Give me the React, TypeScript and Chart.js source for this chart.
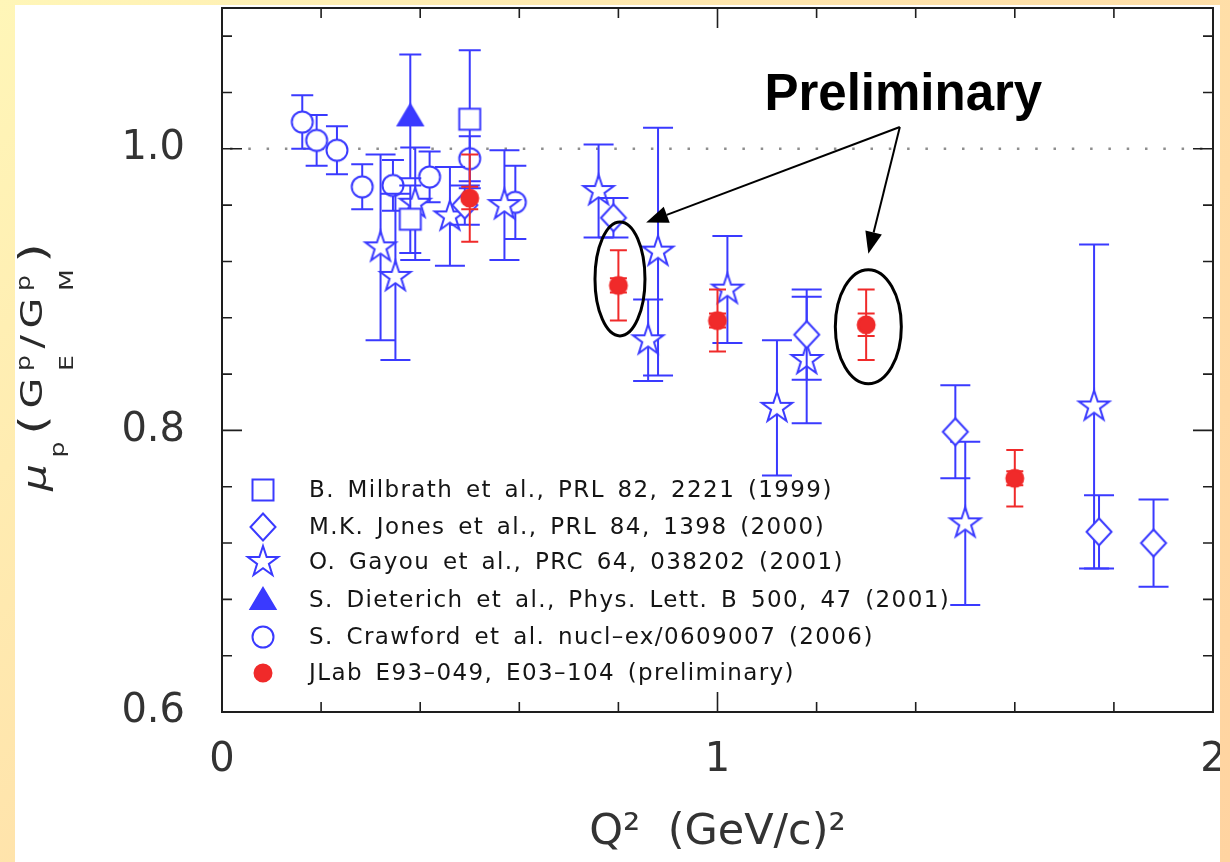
import React, { useEffect, useRef } from "react";
import { Chart, registerables } from "chart.js";

Chart.register(...registerables);

// ---------------- data ----------------
const milbrathQ2 = [0.38, 0.5];
const milbrathR = [0.95, 1.021];
const milbrathErr = [0.024, 0.049];

const jonesQ2 = [0.49, 0.79, 1.18, 1.48, 1.77, 1.88];
const jonesR = [0.96, 0.951, 0.868, 0.799, 0.728, 0.72];
const jonesErr = [0.014, 0.014, 0.032, 0.033, 0.026, 0.031];

const gayouQ2 = [0.32, 0.35, 0.39, 0.46, 0.57, 0.76, 0.86, 0.88, 1.02, 1.12, 1.18, 1.5, 1.76];
const gayouR = [0.93, 0.909, 0.961, 0.952, 0.96, 0.97, 0.864, 0.927, 0.9, 0.816, 0.85, 0.734, 0.817];
const gayouErr = [0.066, 0.059, 0.04, 0.035, 0.039, 0.033, 0.029, 0.088, 0.038, 0.048, 0.045, 0.058, 0.115];

const dieterichQ2 = [0.38];
const dieterichR = [1.023];
const dieterichErr = [0.044];

const crawfordQ2 = [0.162, 0.191, 0.232, 0.283, 0.345, 0.419, 0.5, 0.592];
const crawfordR = [1.019, 1.006, 0.999, 0.973, 0.974, 0.98, 0.993, 0.962];
const crawfordErr = [0.019, 0.018, 0.017, 0.016, 0.018, 0.018, 0.016, 0.026];

const jlabQ2 = [0.5, 0.8, 1.0, 1.3, 1.6];
const jlabR = [0.965, 0.903, 0.878, 0.875, 0.766];
const jlabErr = [0.031, 0.025, 0.022, 0.025, 0.02];
const jlabStatErr = [0.008, 0.005, 0.005, 0.008, 0.005];

const legendLabels = [
  "B. Milbrath et al., PRL 82, 2221 (1999)",
  "M.K. Jones et al., PRL 84, 1398 (2000)",
  "O. Gayou et al., PRC 64, 038202 (2001)",
  "S. Dieterich et al., Phys. Lett. B 500, 47 (2001)",
  "S. Crawford et al. nucl\u2013ex/0609007 (2006)",
  "JLab E93\u2013049, E03\u2013104 (preliminary)",
];

const xLabelTicks = [0, 1, 2];
const yLabelTicks = [0.6, 0.8, 1.0];
const xMinorTicks = [0.2, 0.4, 0.6, 0.8, 1.2, 1.4, 1.6, 1.8];
const xMajorTicks = [0, 1, 2];
const yMinorTicks = [0.64, 0.68, 0.72, 0.76, 0.84, 0.88, 0.92, 0.96, 1.04, 1.08];
const yMajorTicks = [0.6, 0.8, 1.0];
const referenceLine = 1.0;

const xTitle = "Q\u00B2  (GeV/c)\u00B2";
const prelimText = "Preliminary";
const prelimAt = { x: 1.375, y: 1.0277 };
const arrowFrom = { x: 1.368, y: 1.0155 };
const arrowTips = [
  { x: 0.856, y: 0.9476 },
  { x: 1.3044, y: 0.9254 },
];
const ellipseCenters = [
  { x: 0.8032, y: 0.9076 },
  { x: 1.3044, y: 0.8737 },
];

// ---------------- styles ----------------
const BLUE = "#3a3aff";
const RED = "#f02a2a";
const FONT = '"DejaVu Sans", "Liberation Sans", sans-serif';

type Kind = "square" | "diamond" | "star" | "triangle" | "circle" | "dot";

function makeMarker(kind: Kind): HTMLCanvasElement {
  const s = 38;
  const c = document.createElement("canvas");
  c.width = s;
  c.height = s;
  const g = c.getContext("2d")!;
  const m = s / 2;
  g.lineWidth = 2;
  g.strokeStyle = BLUE;
  g.fillStyle = "#ffffff";
  g.beginPath();
  if (kind === "square") {
    g.rect(m - 10.5, m - 10.5, 21, 21);
  } else if (kind === "diamond") {
    g.moveTo(m, m - 13.5);
    g.lineTo(m + 12.5, m);
    g.lineTo(m, m + 13.5);
    g.lineTo(m - 12.5, m);
    g.closePath();
  } else if (kind === "star") {
    for (let i = 0; i < 10; i++) {
      const r = i % 2 ? 6.2 : 16;
      const a = -Math.PI / 2 + (i * Math.PI) / 5;
      const px = m + r * Math.cos(a);
      const py = m + r * Math.sin(a);
      if (i === 0) g.moveTo(px, py);
      else g.lineTo(px, py);
    }
    g.closePath();
  } else if (kind === "triangle") {
    g.moveTo(m, m - 12);
    g.lineTo(m + 12.5, m + 9);
    g.lineTo(m - 12.5, m + 9);
    g.closePath();
    g.fillStyle = BLUE;
  } else if (kind === "circle") {
    g.arc(m, m, 10.5, 0, Math.PI * 2);
  } else {
    g.arc(m, m, 8.5, 0, Math.PI * 2);
    g.fillStyle = RED;
    g.strokeStyle = RED;
  }
  g.fill();
  g.stroke();
  return c;
}

interface Series {
  label: string;
  xs: number[];
  ys: number[];
  errs: number[];
  stat?: number[];
  kind: Kind;
  color: string;
  cap: number;
  legendRow: number;
}

// dataset order: index 0 drawn last (on top)
const SERIES: Series[] = [
  { label: legendLabels[5], xs: jlabQ2, ys: jlabR, errs: jlabErr, stat: jlabStatErr, kind: "dot", color: RED, cap: 8.5, legendRow: 5 },
  { label: legendLabels[0], xs: milbrathQ2, ys: milbrathR, errs: milbrathErr, kind: "square", color: BLUE, cap: 11, legendRow: 0 },
  { label: legendLabels[1], xs: jonesQ2, ys: jonesR, errs: jonesErr, kind: "diamond", color: BLUE, cap: 15, legendRow: 1 },
  { label: legendLabels[2], xs: gayouQ2, ys: gayouR, errs: gayouErr, kind: "star", color: BLUE, cap: 15, legendRow: 2 },
  { label: legendLabels[3], xs: dieterichQ2, ys: dieterichR, errs: dieterichErr, kind: "triangle", color: BLUE, cap: 11, legendRow: 3 },
  { label: legendLabels[4], xs: crawfordQ2, ys: crawfordR, errs: crawfordErr, kind: "circle", color: BLUE, cap: 11, legendRow: 4 },
];

export default function App() {
  const ref = useRef<HTMLCanvasElement>(null);

  useEffect(() => {
    const markers: Record<string, HTMLCanvasElement> = {};
    (["square", "diamond", "star", "triangle", "circle", "dot"] as Kind[]).forEach((k) => {
      markers[k] = makeMarker(k);
    });

    const errorBars = {
      id: "errorBars",
      beforeDatasetDraw(chart: any, args: any) {
        const s = SERIES[args.index];
        if (!s) return;
        const { ctx } = chart;
        const xs = chart.scales.x;
        const ys = chart.scales.y;
        ctx.save();
        ctx.strokeStyle = s.color;
        ctx.lineWidth = 2;
        ctx.beginPath();
        s.xs.forEach((xv, i) => {
          const px = xs.getPixelForValue(xv);
          const t = ys.getPixelForValue(s.ys[i] + s.errs[i]);
          const b = ys.getPixelForValue(s.ys[i] - s.errs[i]);
          ctx.moveTo(px, t);
          ctx.lineTo(px, b);
          ctx.moveTo(px - s.cap, t);
          ctx.lineTo(px + s.cap, t);
          ctx.moveTo(px - s.cap, b);
          ctx.lineTo(px + s.cap, b);
          if (s.stat) {
            const ti = ys.getPixelForValue(s.ys[i] + s.stat[i]);
            const bi = ys.getPixelForValue(s.ys[i] - s.stat[i]);
            ctx.moveTo(px - s.cap, ti);
            ctx.lineTo(px + s.cap, ti);
            ctx.moveTo(px - s.cap, bi);
            ctx.lineTo(px + s.cap, bi);
          }
        });
        ctx.stroke();
        ctx.restore();
      },
    };

    const background = {
      id: "refline",
      beforeDatasetsDraw(chart: any) {
        const { ctx, chartArea } = chart;
        const y = chart.scales.y.getPixelForValue(referenceLine);
        ctx.save();
        ctx.strokeStyle = "#8e8e8e";
        ctx.lineWidth = 2.5;
        ctx.setLineDash([2.5, 15.8]);
        ctx.lineDashOffset = -8;
        ctx.beginPath();
        ctx.moveTo(chartArea.left, y);
        ctx.lineTo(chartArea.right, y);
        ctx.stroke();
        ctx.restore();
      },
    };

    const frame = {
      id: "frame",
      afterDraw(chart: any) {
        const { ctx, chartArea } = chart;
        const { left, right, top, bottom } = chartArea;
        const xs = chart.scales.x;
        const ys = chart.scales.y;
        ctx.save();
        ctx.strokeStyle = "#1e1e1e";
        ctx.lineWidth = 1.6;
        ctx.beginPath();
        const tickX = (v: number, len: number) => {
          const px = xs.getPixelForValue(v);
          ctx.moveTo(px, bottom);
          ctx.lineTo(px, bottom - len);
          ctx.moveTo(px, top);
          ctx.lineTo(px, top + len);
        };
        const tickY = (v: number, len: number) => {
          const py = ys.getPixelForValue(v);
          ctx.moveTo(left, py);
          ctx.lineTo(left + len, py);
          ctx.moveTo(right, py);
          ctx.lineTo(right - len, py);
        };
        xMinorTicks.forEach((v) => tickX(v, 10));
        xMajorTicks.forEach((v) => tickX(v, 20));
        yMinorTicks.forEach((v) => tickY(v, 10));
        yMajorTicks.forEach((v) => tickY(v, 20));
        ctx.stroke();
        ctx.lineWidth = 2;
        ctx.strokeRect(left, top, right - left, bottom - top);
        ctx.restore();
      },
    };

    const legendPlugin = {
      id: "legendBox",
      afterDraw(chart: any) {
        const { ctx } = chart;
        const rowsY = [485, 522, 557, 595, 632, 668];
        ctx.save();
        ctx.font = `23px ${FONT}`;
        (ctx as any).letterSpacing = "1.4px";
        (ctx as any).wordSpacing = "4px";
        ctx.fillStyle = "#151515";
        ctx.textBaseline = "middle";
        ctx.textAlign = "left";
        SERIES.forEach((s) => {
          const y = rowsY[s.legendRow];
          const mk = markers[s.kind];
          ctx.drawImage(mk, 248 - mk.width / 2, y - mk.height / 2);
          ctx.fillText(s.label, 294, y + 1);
        });
        (ctx as any).letterSpacing = "0px";
        (ctx as any).wordSpacing = "0px";
        ctx.restore();
      },
    };

    const annotations = {
      id: "annotations",
      afterDraw(chart: any) {
        const { ctx } = chart;
        const xs = chart.scales.x;
        const ys = chart.scales.y;
        const P = (p: { x: number; y: number }) => ({ x: xs.getPixelForValue(p.x), y: ys.getPixelForValue(p.y) });
        ctx.save();
        ctx.fillStyle = "#000";
        ctx.font = 'bold 51px "Liberation Sans", Arial, sans-serif';
        ctx.textAlign = "center";
        ctx.textBaseline = "alphabetic";
        const tp = P(prelimAt);
        ctx.fillText(prelimText, tp.x, tp.y);
        const from = P(arrowFrom);
        ctx.strokeStyle = "#000";
        ctx.lineWidth = 2;
        arrowTips.forEach((tip) => {
          const t = P(tip);
          const dx = t.x - from.x;
          const dy = t.y - from.y;
          const len = Math.hypot(dx, dy);
          const ux = dx / len;
          const uy = dy / len;
          const hl = 22;
          const hw = 8.5;
          const bx = t.x - ux * hl;
          const by = t.y - uy * hl;
          ctx.beginPath();
          ctx.moveTo(from.x, from.y);
          ctx.lineTo(bx, by);
          ctx.stroke();
          ctx.beginPath();
          ctx.moveTo(t.x, t.y);
          ctx.lineTo(bx - uy * hw, by + ux * hw);
          ctx.lineTo(bx + uy * hw, by - ux * hw);
          ctx.closePath();
          ctx.fillStyle = "#000";
          ctx.fill();
        });
        ctx.lineWidth = 3;
        const radii = [
          [25, 57],
          [33, 57],
        ];
        ellipseCenters.forEach((c, i) => {
          const p = P(c);
          ctx.beginPath();
          ctx.ellipse(p.x, p.y, radii[i][0], radii[i][1], 0, 0, Math.PI * 2);
          ctx.stroke();
        });
        ctx.restore();
      },
    };

    const yTitle = {
      id: "yTitle",
      afterDraw(chart: any) {
        const { ctx } = chart;
        const main = `30px ${FONT}`;
        const small = `19px ${FONT}`;
        const paren = `38px ${FONT}`;
        const mu = `italic 32px ${FONT}`;
        const segs: { t: string; f: string; dy: number }[][] = [
          [{ t: "\u03BC", f: mu, dy: 4 }],
          [{ t: "p", f: small, dy: 22 }],
          [{ t: "(", f: paren, dy: 3 }],
          [{ t: "G", f: main, dy: 0 }],
          [
            { t: "p", f: small, dy: -12 },
            { t: "E", f: small, dy: 31 },
          ],
          [{ t: "/", f: main, dy: 0 }],
          [{ t: "G", f: main, dy: 0 }],
          [
            { t: "p", f: small, dy: -12 },
            { t: "M", f: small, dy: 31 },
          ],
          [{ t: ")", f: paren, dy: 3 }],
        ];
        const gap = 5;
        const widths = segs.map((seg) =>
          Math.max(
            ...seg.map((p) => {
              ctx.font = p.f;
              return ctx.measureText(p.t).width;
            })
          )
        );
        const total = widths.reduce((a, b) => a + b, 0) + gap * (segs.length - 1);
        const target = 248;
        ctx.save();
        ctx.translate(27, 362);
        ctx.rotate(-Math.PI / 2);
        ctx.scale(target / total, 1);
        ctx.fillStyle = "#2a2a2a";
        ctx.textBaseline = "alphabetic";
        ctx.textAlign = "left";
        let u = -total / 2;
        segs.forEach((seg, i) => {
          seg.forEach((p) => {
            ctx.font = p.f;
            ctx.fillText(p.t, u, p.dy);
          });
          u += widths[i] + gap;
        });
        ctx.restore();
      },
    };

    const chart = new Chart(ref.current!, {
      type: "scatter",
      data: {
        datasets: SERIES.map((s) => ({
          label: s.label,
          data: s.xs.map((x, i) => ({ x, y: s.ys[i] })),
          pointStyle: markers[s.kind] as any,
          pointRadius: 12,
          showLine: false,
          clip: false,
        })),
      },
      options: {
        responsive: false,
        animation: false,
        events: [],
        layout: { autoPadding: false, padding: { top: 3, right: 7, left: 0, bottom: 0 } },
        plugins: {
          legend: { display: false },
          tooltip: { enabled: false },
        },
        scales: {
          x: {
            type: "linear",
            min: 0,
            max: 2,
            grid: { display: false, drawTicks: false },
            border: { display: false },
            afterBuildTicks: (s: any) => {
              s.ticks = xLabelTicks.map((v) => ({ value: v }));
            },
            afterFit: (s: any) => {
              s.height = 150;
              s.paddingLeft = 0;
              s.paddingRight = 0;
            },
            ticks: {
              padding: 25,
              color: "#333",
              font: { family: FONT, size: 40 },
              maxRotation: 0,
              autoSkip: false,
              callback: (v: any) => String(v),
            },
            title: {
              display: true,
              text: xTitle,
              color: "#333",
              font: { family: FONT, size: 43 },
              padding: { top: 0, bottom: 3 },
            },
          },
          y: {
            type: "linear",
            min: 0.6,
            max: 1.1,
            grid: { display: false, drawTicks: false },
            border: { display: false },
            afterBuildTicks: (s: any) => {
              s.ticks = yLabelTicks.map((v) => ({ value: v }));
            },
            afterFit: (s: any) => {
              s.width = 207;
              s.paddingTop = 0;
              s.paddingBottom = 0;
            },
            ticks: {
              padding: 37,
              color: "#333",
              font: { family: FONT, size: 40 },
              autoSkip: false,
              callback: (v: any) => Number(v).toFixed(1),
            },
          },
        },
      } as any,
      plugins: [background, errorBars, frame, legendPlugin, annotations, yTitle],
    });
    return () => chart.destroy();
  }, []);

  return (
    <div
      style={{
        position: "fixed",
        left: 0,
        top: 0,
        width: 1230,
        height: 862,
        overflow: "hidden",
        background: "linear-gradient(135deg, #fff6b8 0%, #ffe2aa 45%, #ffd3a0 100%)",
      }}
    >
      <div style={{ position: "absolute", left: 15, top: 5, width: 1205, height: 857, background: "#ffffff" }}>
        <canvas ref={ref} width={1205} height={857} style={{ display: "block", width: 1205, height: 857 }} />
      </div>
    </div>
  );
}
